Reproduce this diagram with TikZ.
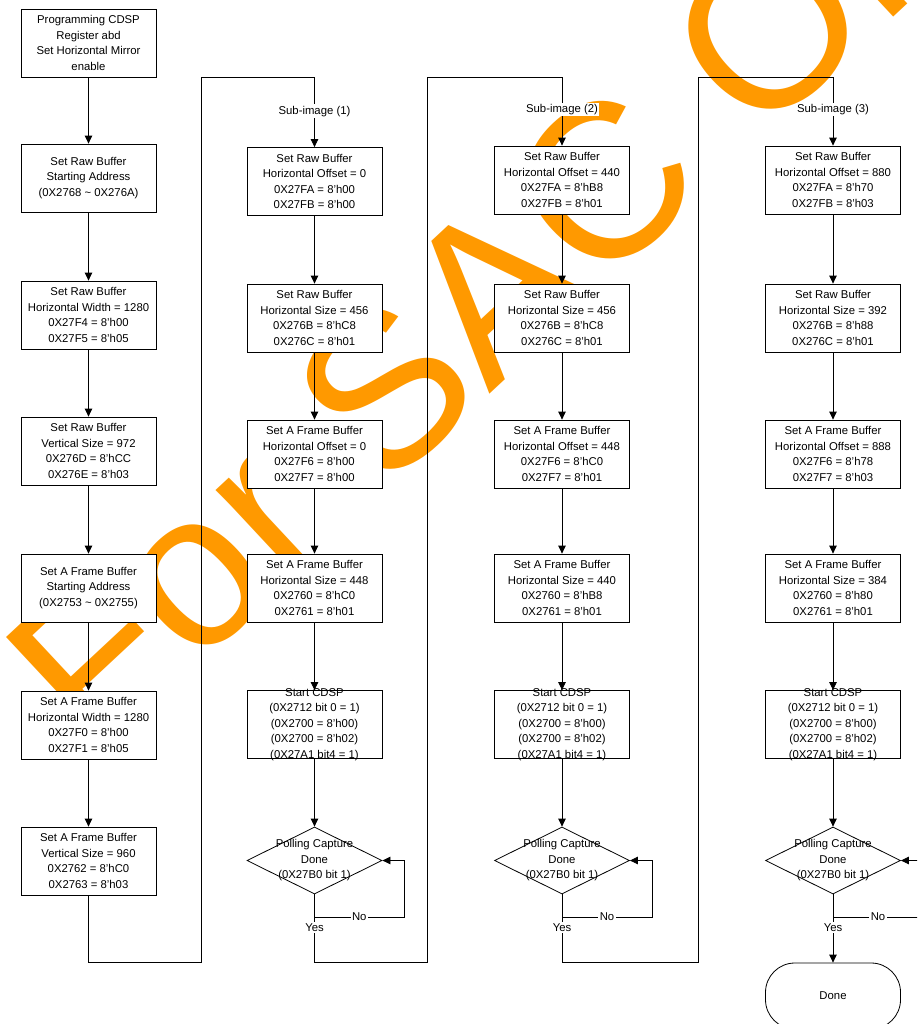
\documentclass[tikz,border=0pt]{standalone}
\usepackage{fontspec}
\setmainfont{Liberation Sans}
\usetikzlibrary{calc, arrows.meta, positioning, shapes.geometric}
\definecolor{wmark}{RGB}{255,153,0}

\begin{document}
\begin{tikzpicture}[x=0.75pt, y=-0.75pt, >={Triangle[length=6pt, width=5.6pt]},
    line width=0.6pt,
    box/.style={draw, fill=white, minimum width=101.25pt, minimum height=51pt,
        inner sep=0pt, align=center, font=\fontsize{8.5}{11.6}\selectfont},
    txt/.style={inner sep=0pt, align=center, font=\fontsize{8.5}{11.6}\selectfont},
    decision/.style={diamond, draw, fill=white, minimum width=101.25pt,
        minimum height=50.25pt, inner sep=0pt},
    lbl/.style={fill=white, inner sep=1pt, font=\fontsize{8.5}{11.6}\selectfont},
    term/.style={draw, fill=white, rounded corners=22pt, minimum width=101.25pt,
        minimum height=49.5pt, font=\fontsize{8.5}{11.6}\selectfont}]

    \useasboundingbox (0,0) rectangle (917,1024);
    \clip (0,0) rectangle (917,1024);

    % ==========================================
    % WATERMARK (behind everything)
    % ==========================================
    \node[rotate=43, anchor=base west, inner sep=0pt, text=wmark,
        font=\fontsize{165}{165}\selectfont] (wm) at (96,761) {For SAC Only};

    % ==========================================
    % COLUMN 1: Common settings
    % ==========================================
    \node[box] (a1) at (88.5,43)  {Programming CDSP\\Register abd\\Set Horizontal Mirror\\enable};
    \node[box] (a2) at (88.5,178) {Set Raw Buffer\\Starting Address\\(0X2768 \textasciitilde{} 0X276A)};
    \node[box] (a3) at (88.5,315) {Set Raw Buffer\\Horizontal Width = 1280\\0X27F4 = 8'h00\\0X27F5 = 8'h05};
    \node[box] (a4) at (88.5,451) {Set Raw Buffer\\Vertical Size = 972\\0X276D = 8'hCC\\0X276E = 8'h03};
    \node[box] (a5) at (88.5,588) {Set A Frame Buffer\\Starting Address\\(0X2753 \textasciitilde{} 0X2755)};
    \node[box] (a6) at (88.5,725) {Set A Frame Buffer\\Horizontal Width = 1280\\0X27F0 = 8'h00\\0X27F1 = 8'h05};
    \node[box] (a7) at (88.5,861) {Set A Frame Buffer\\Vertical Size = 960\\0X2762 = 8'hC0\\0X2763 = 8'h03};

    \foreach \i/\j in {a1/a2, a2/a3, a3/a4, a4/a5, a5/a6, a6/a7}
        \draw[->] (\i) -- (\j);

    % ==========================================
    % COLUMN 2: Sub-image (1)
    % ==========================================
    \node[box] (b1) at (314.5,181.5) {Set Raw Buffer\\Horizontal Offset = 0\\0X27FA = 8'h00\\0X27FB = 8'h00};
    \node[box] (b2) at (314.5,318) {Set Raw Buffer\\Horizontal Size = 456\\0X276B = 8'hC8\\0X276C = 8'h01};
    \node[box] (b3) at (314.5,454) {Set A Frame Buffer\\Horizontal Offset = 0\\0X27F6 = 8'h00\\0X27F7 = 8'h00};
    \node[box] (b4) at (314.5,588) {Set A Frame Buffer\\Horizontal Size = 448\\0X2760 = 8'hC0\\0X2761 = 8'h01};
    \node[box] (b5) at (314.5,724.5) {};
    \node[txt] at (b5) {Start CDSP\\(0X2712 bit 0 = 1)\\(0X2700 = 8'h00)\\(0X2700 = 8'h02)\\(0X27A1 bit4 = 1)};
    \node[decision] (d1) at (314.5,860.5) {};
    \node[txt] at (d1) {Polling Capture\\Done\\(0X27B0 bit 1)};

    % ==========================================
    % COLUMN 3: Sub-image (2)
    % ==========================================
    \node[box] (c1) at (562,180) {Set Raw Buffer\\Horizontal Offset = 440\\0X27FA = 8'hB8\\0X27FB = 8'h01};
    \node[box] (c2) at (562,318) {Set Raw Buffer\\Horizontal Size = 456\\0X276B = 8'hC8\\0X276C = 8'h01};
    \node[box] (c3) at (562,454) {Set A Frame Buffer\\Horizontal Offset = 448\\0X27F6 = 8'hC0\\0X27F7 = 8'h01};
    \node[box] (c4) at (562,588) {Set A Frame Buffer\\Horizontal Size = 440\\0X2760 = 8'hB8\\0X2761 = 8'h01};
    \node[box] (c5) at (562,724.5) {};
    \node[txt] at (c5) {Start CDSP\\(0X2712 bit 0 = 1)\\(0X2700 = 8'h00)\\(0X2700 = 8'h02)\\(0X27A1 bit4 = 1)};
    \node[decision] (d2) at (562,860.5) {};
    \node[txt] at (d2) {Polling Capture\\Done\\(0X27B0 bit 1)};

    % ==========================================
    % COLUMN 4: Sub-image (3)
    % ==========================================
    \node[box] (e1) at (833,180) {Set Raw Buffer\\Horizontal Offset = 880\\0X27FA = 8'h70\\0X27FB = 8'h03};
    \node[box] (e2) at (833,318) {Set Raw Buffer\\Horizontal Size = 392\\0X276B = 8'h88\\0X276C = 8'h01};
    \node[box] (e3) at (833,454) {Set A Frame Buffer\\Horizontal Offset = 888\\0X27F6 = 8'h78\\0X27F7 = 8'h03};
    \node[box] (e4) at (833,588) {Set A Frame Buffer\\Horizontal Size = 384\\0X2760 = 8'h80\\0X2761 = 8'h01};
    \node[box] (e5) at (833,724.5) {};
    \node[txt] at (e5) {Start CDSP\\(0X2712 bit 0 = 1)\\(0X2700 = 8'h00)\\(0X2700 = 8'h02)\\(0X27A1 bit4 = 1)};
    \node[decision] (d3) at (833,860.5) {};
    \node[txt] at (d3) {Polling Capture\\Done\\(0X27B0 bit 1)};
    \node[term] (done) at (833,996) {Done};

    \foreach \i/\j in {b1/b2, b2/b3, b3/b4, b4/b5, b5/d1,
                       c1/c2, c2/c3, c3/c4, c4/c5, c5/d2,
                       e1/e2, e2/e3, e3/e4, e4/e5, e5/d3}
        \draw[->] (\i) -- (\j);

    % ==========================================
    % LOOP FRAMES between the columns
    % ==========================================
    \coordinate (f1) at (201,962);  \coordinate (g1) at (201,77);
    \coordinate (f2) at (427,962);  \coordinate (g2) at (427,77);
    \coordinate (f3) at (698,962);  \coordinate (g3) at (698,77);

    \draw[->] (a7.south) |- (f1) -- (g1) -| (b1.north);
    \draw[->] (d1.south) |- (f2) -- (g2) -| (c1.north);
    \draw[->] (d2.south) |- (f3) -- (g3) -| (e1.north);
    \draw[->] (d3.south) -- (done.north);

    \node[lbl] at ($(b1.north)+(0,-36)$) {Sub-image (1)};
    \node[lbl] at ($(c1.north)+(0,-36)$) {Sub-image (2)};
    \node[lbl] at ($(e1.north)+(0,-36)$) {Sub-image (3)};

    % Polling loops (No) and exits (Yes)
    \coordinate (n1) at (404,917);
    \coordinate (n2) at (652,917);
    \coordinate (n3) at (923,917);
    \draw[->] (d1.south) |- node[lbl, pos=0.75] {No} (n1) |- (d1.east);
    \draw[->] (d2.south) |- node[lbl, pos=0.75] {No} (n2) |- (d2.east);
    \draw[->] (d3.south) |- node[lbl, pos=0.75] {No} (n3) |- (d3.east);

    \node[lbl] at ($(d1.south)+(0,33)$) {Yes};
    \node[lbl] at ($(d2.south)+(0,33)$) {Yes};
    \node[lbl] at ($(d3.south)+(0,33)$) {Yes};

\end{tikzpicture}
\end{document}
